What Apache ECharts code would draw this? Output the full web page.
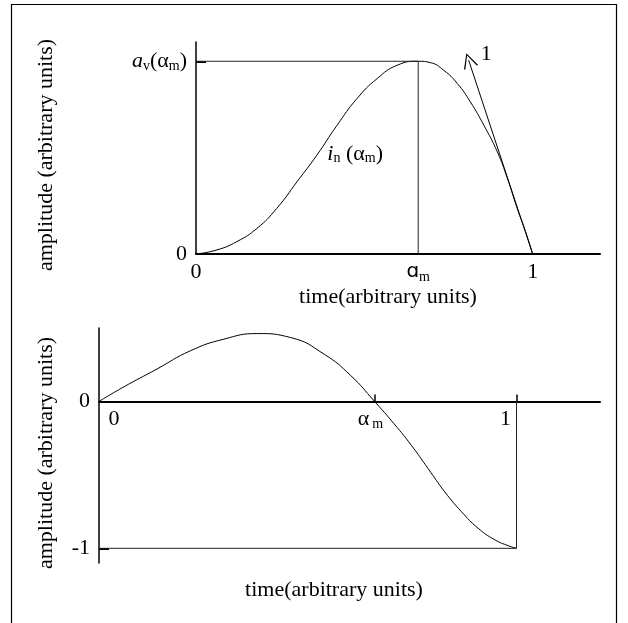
<!DOCTYPE html>
<html>
<head>
<meta charset="utf-8">
<script src="https://cdn.jsdelivr.net/npm/echarts@6/dist/echarts.min.js"></script>
<style>
  html, body { margin: 0; padding: 0; background: #fff; }
  #chart { width: 628px; height: 623px; }
</style>
</head>
<body>
<div id="chart"></div>
<script>
// values (time normalised so that the end point is 1)
const ALPHA_M = 0.66;
const PEAK = 1;     // a_v(alpha_m)
const TROUGH = -1;

const topTime = [0, 0.062, 0.121, 0.181, 0.240, 0.300, 0.359, 0.419, 0.478, 0.538, 0.597, 0.660, 0.696, 0.736, 0.776, 0.815, 0.855, 0.895, 0.925, 0.954, 0.979, 1.0];
const topAmp  = [0, 0.021, 0.064, 0.133, 0.237, 0.375, 0.513, 0.668, 0.806, 0.910, 0.979, 1.0, 0.993, 0.953, 0.885, 0.789, 0.668, 0.530, 0.392, 0.237, 0.116, 0];

const botTime = [0, 0.058, 0.139, 0.219, 0.299, 0.379, 0.459, 0.539, 0.603, 0.660, 0.707, 0.748, 0.788, 0.828, 0.868, 0.908, 0.948, 0.981, 1.0];
const botAmp  = [0, 0.097, 0.221, 0.345, 0.424, 0.462, 0.435, 0.322, 0.176, 0, -0.153, -0.298, -0.456, -0.615, -0.750, -0.863, -0.942, -0.983, -1.0];

// tangent arrow at t = 1 (slope labelled "1")
const tangentTime = [1, 0.81];
const tangentAmp  = [0, 1.005];
const curveLabelAt = [0.39, 0.52];

const topXTicks = [0, ALPHA_M, 1];
const topYTicks = [0, PEAK];
const botXTicks = [0, ALPHA_M, 1];
const botYTicks = [TROUGH, 0];

const FONT = 'Liberation Serif';
const rich = {
  n: { fontFamily: FONT, fontSize: 22, color: '#000', lineHeight: 24 },
  i: { fontFamily: FONT, fontSize: 22, color: '#000', fontStyle: 'italic', lineHeight: 24 },
  s: { fontFamily: FONT, fontSize: 14, color: '#000', verticalAlign: 'bottom', lineHeight: 12 },
  a: { fontFamily: 'DejaVu Sans', fontSize: 20, color: '#000', lineHeight: 24 },
  n0: { fontFamily: FONT, fontSize: 22, color: '#000', lineHeight: 24, padding: [0, 0, 0, 30] },
  nAl: { fontFamily: FONT, fontSize: 22, color: '#000', lineHeight: 24 },
  sAl: { fontFamily: FONT, fontSize: 14, color: '#000', verticalAlign: 'bottom', lineHeight: 12, padding: [0, 8, 0, 3] },
  n1: { fontFamily: FONT, fontSize: 22, color: '#000', lineHeight: 24, padding: [0, 22, 0, 0] }
};

function pairs(xs, ys) {
  return xs.map((x, i) => [x, ys[i]]);
}

const nameStyle = { fontFamily: FONT, fontSize: 22, color: '#000' };
const guide = { color: '#222', width: 1 };

// bottom panel: y range and where its zero line sits
const BOT_TOP = 328, BOT_H = 235, BOT_MIN = -1.1, BOT_MAX = 0.5;
const zeroShift = BOT_H * (0 - BOT_MIN) / (BOT_MAX - BOT_MIN);

var chart = echarts.init(document.getElementById('chart'));
chart.setOption({
  animation: false,
  backgroundColor: '#fff',
  graphic: [{
    type: 'rect',
    shape: { x: 11.5, y: 4.5, width: 605, height: 640 },
    style: { fill: 'none', stroke: '#000', lineWidth: 1.2 }
  }],
  grid: [
    { left: 196, right: 28, top: 42, height: 212, outerBoundsMode: 'none' },
    { left: 99, right: 28, top: BOT_TOP, height: BOT_H, outerBoundsMode: 'none' }
  ],
  xAxis: [
    {
      gridIndex: 0, type: 'value', min: 0, max: 1.2,
      axisLine: { lineStyle: { color: '#000', width: 2 } },
      splitLine: { show: false },
      axisTick: { show: false },
      axisLabel: {
        customValues: topXTicks, margin: 6, rich: rich,
        formatter: v => v === 0 ? '{n|0}' : (v === 1 ? '{n|1}' : '{a|ɑ}{s|m}')
      },
      name: 'time(arbitrary units)', nameLocation: 'middle', nameGap: 32,
      nameTextStyle: Object.assign({ padding: [0, 20, 0, 0] }, nameStyle)
    },
    {
      gridIndex: 1, type: 'value', min: 0, max: 1.2,
      offset: -zeroShift,
      axisLine: { onZero: false, lineStyle: { color: '#000', width: 2 } },
      splitLine: { show: false },
      axisTick: { show: true, inside: true, length: 7, customValues: [ALPHA_M, 1], lineStyle: { color: '#000', width: 1.5 } },
      axisLabel: {
        customValues: botXTicks, margin: 6, rich: rich,
        formatter: v => v === 0 ? '{n0|0}' : (v === 1 ? '{n1|1}' : '{nAl|α}{sAl|m}')
      },
      name: 'time(arbitrary units)', nameLocation: 'middle', nameGap: 178,
      nameTextStyle: Object.assign({ padding: [0, 31, 0, 0] }, nameStyle)
    }
  ],
  yAxis: [
    {
      gridIndex: 0, type: 'value', min: 0, max: 1.1,
      axisLine: { show: true, lineStyle: { color: '#000', width: 1.5 } },
      splitLine: { show: false },
      axisTick: { show: true, inside: true, length: 10, customValues: topYTicks, lineStyle: { color: '#000', width: 2 } },
      axisLabel: {
        customValues: topYTicks, margin: 9, rich: rich,
        formatter: v => v === 0 ? '{n|0}' : '{i|a}{s|v}{n|(α}{s|m}{n|)}'
      },
      name: 'amplitude (arbitrary units)', nameLocation: 'middle', nameGap: 139,
      nameTextStyle: Object.assign({ padding: [0, 14, 0, 0] }, nameStyle)
    },
    {
      gridIndex: 1, type: 'value', min: BOT_MIN, max: BOT_MAX,
      axisLine: { show: true, lineStyle: { color: '#000', width: 1.5 } },
      splitLine: { show: false },
      axisTick: { show: true, inside: true, length: 10, customValues: botYTicks, lineStyle: { color: '#000', width: 2 } },
      axisLabel: {
        customValues: botYTicks, margin: 9, rich: rich,
        formatter: v => '{n|' + v + '}'
      },
      name: 'amplitude (arbitrary units)', nameLocation: 'middle', nameGap: 42,
      nameTextStyle: Object.assign({ padding: [0, 15, 0, 0] }, nameStyle)
    }
  ],
  series: [
    {
      name: 'i_n', type: 'line', xAxisIndex: 0, yAxisIndex: 0,
      data: pairs(topTime, topAmp), smooth: true, symbol: 'none',
      lineStyle: { color: '#000', width: 1 }
    },
    {
      name: 'peak level', type: 'line', xAxisIndex: 0, yAxisIndex: 0,
      data: [[0, PEAK], [ALPHA_M, PEAK]], symbol: 'none', lineStyle: guide
    },
    {
      name: 'alpha_m', type: 'line', xAxisIndex: 0, yAxisIndex: 0,
      data: [[ALPHA_M, 0], [ALPHA_M, PEAK]], symbol: 'none', lineStyle: guide
    },
    {
      name: 'tangent', type: 'lines', coordinateSystem: 'cartesian2d', xAxisIndex: 0, yAxisIndex: 0,
      data: [{ coords: pairs(tangentTime, tangentAmp) }],
      symbol: ['none', 'path://M5,0 L10,12 L9,12 L5,2 L1,12 L0,12 Z'],
      symbolSize: [10, 15],
      lineStyle: { color: '#000', width: 1, opacity: 1 }
    },
    {
      name: 'labels', type: 'scatter', xAxisIndex: 0, yAxisIndex: 0,
      symbolSize: 0, silent: true,
      itemStyle: { color: '#000', opacity: 1 },
      data: [
        { value: [tangentTime[1], tangentAmp[1]], label: { formatter: '{n|1}', offset: [12, -6] } },
        { value: curveLabelAt, label: { formatter: '{i|i}{s|n}{n| (α}{s|m}{n|)}' } }
      ],
      label: { show: true, position: 'right', distance: 0, color: '#000', opacity: 1, rich: rich }
    },
    {
      name: 'derivative', type: 'line', xAxisIndex: 1, yAxisIndex: 1,
      data: pairs(botTime, botAmp), smooth: true, symbol: 'none',
      lineStyle: { color: '#000', width: 1 }
    },
    {
      name: 'trough level', type: 'line', xAxisIndex: 1, yAxisIndex: 1,
      data: [[0, TROUGH], [1, TROUGH]], symbol: 'none', lineStyle: guide
    },
    {
      name: 'end', type: 'line', xAxisIndex: 1, yAxisIndex: 1,
      data: [[1, 0], [1, TROUGH]], symbol: 'none', lineStyle: guide
    }
  ]
});
</script>
</body>
</html>
